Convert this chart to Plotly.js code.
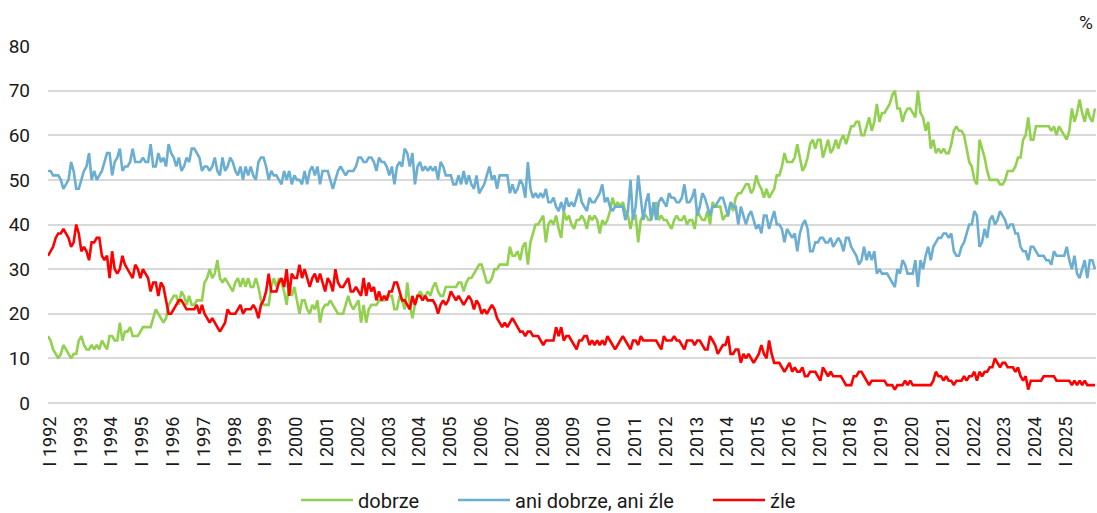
<!DOCTYPE html>
<html>
<head>
<meta charset="utf-8">
<script src="https://cdn.plot.ly/plotly-3.0.1.min.js"></script>
<style>
html, body { margin: 0; padding: 0; background: #ffffff; }
#chart { width: 1097px; height: 513px; }
</style>
</head>
<body>
<div id="chart"></div>
<script>
// Monthly survey results, January 1992 onward (one row per year)
const dobrze = [
  15, 14, 12, 11, 10, 11, 13, 12, 11, 10, 11, 11,
  14, 15, 13, 12, 12, 13, 12, 13, 12, 14, 13, 12,
  15, 15, 14, 14, 18, 14, 16, 16, 17, 15, 15, 15,
  16, 17, 17, 17, 17, 19, 21, 20, 19, 18, 19, 22,
  23, 24, 24, 22, 25, 24, 22, 24, 22, 22, 23, 23,
  23, 27, 28, 30, 28, 29, 32, 28, 27, 28, 27, 26,
  25, 27, 28, 26, 28, 26, 28, 26, 26, 28, 26, 23,
  22, 22, 22, 26, 28, 26, 28, 27, 25, 22, 27, 24,
  26, 23, 20, 23, 23, 21, 20, 22, 21, 23, 18, 21,
  22, 22, 23, 22, 21, 20, 20, 20, 22, 24, 22, 21,
  22, 23, 18, 22, 18, 21, 22, 22, 22, 23, 23, 23,
  24, 24, 24, 21, 21, 24, 23, 21, 27, 22, 19, 22,
  24, 25, 24, 24, 25, 24, 26, 27, 25, 24, 24, 26,
  26, 26, 26, 26, 27, 27, 25, 27, 28, 28, 29, 30,
  31, 31, 29, 27, 27, 28, 30, 30, 31, 31, 31, 31,
  35, 33, 33, 34, 32, 35, 36, 31, 36, 38, 40, 40,
  41, 42, 36, 40, 41, 40, 42, 39, 37, 43, 41, 42,
  40, 39, 41, 41, 42, 41, 39, 42, 41, 42, 41, 38,
  41, 40, 41, 43, 46, 44, 45, 44, 45, 43, 42, 39,
  42, 42, 36, 41, 42, 42, 41, 41, 43, 45, 41, 42,
  41, 41, 40, 39, 41, 42, 41, 41, 42, 40, 41, 41,
  39, 43, 42, 41, 41, 43, 40, 45, 44, 44, 44, 41,
  42, 42, 45, 43, 46, 47, 47, 48, 49, 49, 47, 48,
  51, 49, 48, 46, 48, 46, 47, 48, 51, 51, 53, 56,
  54, 54, 54, 55, 58, 55, 52, 53, 55, 58, 59, 57,
  59, 59, 55, 57, 59, 56, 57, 59, 57, 59, 60, 58,
  60, 62, 62, 63, 63, 60, 60, 62, 64, 61, 63, 67,
  63, 65, 65, 66, 67, 69, 70, 66, 66, 63, 65, 66,
  66, 65, 64, 70, 65, 64, 61, 63, 57, 59, 56, 57,
  56, 57, 56, 56, 58, 61, 62, 61, 61, 60, 57, 54,
  53, 50, 49, 59, 57, 55, 52, 50, 50, 50, 50, 49,
  49, 50, 52, 52, 52, 53, 55, 55, 59, 60, 64, 59,
  59, 62, 62, 62, 62, 62, 62, 61, 62, 60, 62, 61,
  60, 59, 61, 66, 63, 65, 68, 65, 63, 66, 64, 63,
  66
];

const aniDobrzeAniZle = [
  52, 52, 51, 51, 51, 50, 48, 49, 50, 54, 52, 48,
  48, 50, 52, 53, 56, 50, 52, 50, 51, 52, 54, 56,
  56, 51, 54, 55, 57, 52, 53, 53, 54, 57, 54, 54,
  54, 55, 54, 54, 58, 53, 53, 56, 54, 55, 53, 58,
  56, 55, 53, 55, 52, 53, 55, 54, 57, 57, 56, 55,
  52, 53, 53, 52, 53, 55, 52, 51, 55, 52, 53, 55,
  54, 52, 51, 53, 50, 53, 51, 53, 51, 50, 54, 55,
  55, 53, 50, 52, 51, 51, 50, 49, 52, 50, 52, 49,
  51, 50, 50, 49, 52, 49, 52, 53, 51, 53, 49, 52,
  52, 52, 50, 48, 50, 52, 53, 52, 51, 52, 52, 52,
  53, 55, 55, 54, 54, 55, 55, 54, 52, 55, 54, 54,
  53, 51, 53, 49, 53, 54, 53, 57, 56, 53, 56, 49,
  53, 54, 52, 53, 52, 53, 52, 53, 50, 54, 53, 51,
  51, 51, 49, 49, 51, 49, 52, 49, 51, 49, 48, 51,
  47, 48, 49, 51, 53, 50, 51, 48, 51, 51, 51, 51,
  47, 49, 47, 48, 50, 49, 46, 54, 48, 46, 47, 46,
  47, 46, 48, 45, 45, 46, 44, 43, 45, 43, 46, 44,
  45, 44, 46, 48, 45, 44, 43, 46, 45, 45, 46, 47,
  49, 45, 46, 44, 43, 44, 44, 44, 44, 41, 43, 50,
  41, 44, 51, 46, 41, 45, 47, 41, 45, 41, 45, 46,
  45, 44, 47, 46, 46, 45, 45, 46, 49, 45, 45, 46,
  48, 42, 44, 47, 46, 44, 42, 44, 44, 45, 46, 46,
  44, 42, 45, 44, 44, 40, 44, 42, 40, 42, 43, 41,
  39, 40, 38, 42, 42, 39, 41, 43, 40, 40, 39, 36,
  39, 38, 37, 38, 34, 38, 40, 41, 39, 34, 34, 36,
  36, 37, 37, 36, 36, 37, 35, 36, 37, 36, 34, 37,
  37, 35, 34, 33, 31, 32, 35, 32, 34, 32, 34, 29,
  30, 29, 29, 29, 28, 27, 26, 30, 29, 32, 31, 29,
  29, 29, 32, 26, 32, 30, 33, 35, 32, 35, 36, 37,
  37, 38, 38, 37, 38, 34, 33, 33, 35, 36, 38, 40,
  40, 43, 42, 35, 36, 39, 37, 41, 42, 40, 41, 43,
  42, 41, 39, 40, 40, 38, 38, 35, 34, 34, 32, 35,
  35, 34, 33, 33, 33, 32, 32, 31, 34, 33, 33, 33,
  33, 35, 32, 30, 33, 29, 28, 30, 32, 28, 32, 32,
  30
];

const zle = [
  33, 34, 35, 37, 38, 38, 39, 38, 37, 35, 36, 40,
  38, 34, 35, 34, 32, 36, 36, 37, 37, 33, 32, 33,
  28, 34, 30, 29, 30, 33, 31, 30, 29, 28, 31, 30,
  28, 30, 29, 28, 25, 27, 27, 24, 27, 26, 23, 20,
  20, 21, 22, 23, 23, 22, 21, 21, 21, 21, 22, 20,
  22, 20, 19, 18, 19, 18, 17, 16, 17, 18, 21, 20,
  20, 20, 21, 22, 20, 21, 21, 21, 22, 21, 19, 22,
  23, 25, 29, 25, 25, 25, 27, 28, 26, 30, 24, 29,
  28, 28, 31, 28, 30, 28, 26, 28, 29, 27, 29, 27,
  25, 28, 27, 25, 30, 27, 26, 26, 27, 28, 25, 25,
  26, 25, 24, 28, 24, 27, 25, 26, 23, 25, 23, 24,
  23, 25, 25, 27, 27, 25, 23, 23, 22, 21, 24, 22,
  24, 24, 23, 24, 23, 23, 23, 22, 20, 22, 23, 22,
  23, 25, 24, 23, 24, 23, 22, 23, 24, 23, 21, 23,
  22, 20, 21, 20, 21, 22, 21, 19, 18, 17, 18, 17,
  18, 19, 18, 17, 16, 16, 15, 16, 16, 15, 15, 15,
  14, 13, 14, 14, 14, 14, 17, 15, 17, 14, 15, 15,
  14, 13, 12, 14, 14, 15, 15, 13, 14, 13, 14, 13,
  14, 13, 15, 14, 13, 12, 13, 14, 15, 14, 13, 12,
  14, 14, 13, 15, 14, 14, 14, 14, 14, 14, 13, 12,
  15, 14, 14, 14, 15, 14, 14, 13, 12, 14, 14, 14,
  13, 14, 14, 13, 12, 12, 15, 14, 13, 11, 12, 13,
  13, 15, 11, 11, 12, 12, 9, 11, 10, 11, 10, 9,
  10, 11, 13, 11, 10, 14, 11, 9, 9, 9, 8, 7,
  8, 9, 7, 8, 7, 7, 8, 6, 6, 7, 7, 7,
  6, 5, 8, 7, 6, 7, 6, 6, 6, 6, 5, 4,
  4, 4, 6, 6, 7, 7, 6, 5, 4, 5, 5, 5,
  5, 5, 5, 4, 4, 4, 3, 4, 4, 4, 5, 4,
  5, 4, 4, 4, 4, 4, 4, 4, 4, 5, 7, 6,
  6, 5, 6, 5, 5, 4, 5, 5, 5, 6, 5, 6,
  6, 7, 5, 7, 6, 7, 7, 8, 8, 10, 9, 8,
  9, 9, 8, 8, 8, 7, 8, 6, 5, 6, 3, 5,
  5, 5, 5, 5, 6, 6, 6, 6, 6, 5, 5, 5,
  5, 5, 5, 4, 5, 4, 5, 4, 5, 4, 4, 4,
  4
];

const tickLabels = [
  'I 1992', 'I 1993', 'I 1994', 'I 1995', 'I 1996', 'I 1997', 'I 1998',
  'I 1999', 'I 2000', 'I 2001', 'I 2002', 'I 2003', 'I 2004', 'I 2005',
  'I 2006', 'I 2007', 'I 2008', 'I 2009', 'I 2010', 'I 2011', 'I 2012',
  'I 2013', 'I 2014', 'I 2015', 'I 2016', 'I 2017', 'I 2018', 'I 2019',
  'I 2020', 'I 2021', 'I 2022', 'I 2023', 'I 2024', 'I 2025'
];

const seriesNames = ['dobrze', 'ani dobrze, ani źle', 'źle'];
const seriesColors = ['#92d050', '#6baed2', '#ff0000'];
const seriesValues = [dobrze, aniDobrzeAniZle, zle];

// month index (0 = January 1992)
const monthIndex = dobrze.map((_, i) => i);
const tickVals = tickLabels.map((_, i) => i * 12);

const FONT = 'Roboto, "Noto Sans", Arial, sans-serif';
const TXT = '#1a1a1a';

const legendIds = ['legend', 'legend2', 'legend3'];
const traces = seriesValues.map((vals, k) => ({
  type: 'scatter',
  mode: 'lines',
  x: monthIndex,
  y: vals,
  name: seriesNames[k],
  legend: legendIds[k],
  line: { color: seriesColors[k], width: 2.6 },
  hoverinfo: 'skip'
}));

const plotLeft = 48, plotW = 1048, plotTop = 46, plotH = 357;
function px2paperX(px) { return (px - plotLeft) / plotW; }
function px2paperY(py) { return (plotTop + plotH - py) / plotH; }

const legendBase = {
  orientation: 'h',
  xanchor: 'left',
  yanchor: 'middle',
  y: px2paperY(500),
  font: { family: FONT, size: 20, color: TXT },
  itemwidth: 52,
  bgcolor: 'rgba(0,0,0,0)',
  borderwidth: 0
};

const layout = {
  width: 1097,
  height: 513,
  margin: { l: plotLeft, r: 1097 - plotLeft - plotW, t: plotTop, b: 513 - plotTop - plotH, pad: 0, autoexpand: false },
  paper_bgcolor: '#ffffff',
  plot_bgcolor: '#ffffff',
  font: { family: FONT, size: 19, color: TXT },
  showlegend: true,
  legend: Object.assign({}, legendBase, { x: px2paperX(296) }),
  legend2: Object.assign({}, legendBase, { x: px2paperX(453) }),
  legend3: Object.assign({}, legendBase, { x: px2paperX(708) }),
  xaxis: {
    range: [0, 408.4],
    tickmode: 'array',
    tickvals: tickVals,
    ticktext: tickLabels,
    tickangle: -90,
    showgrid: false,
    zeroline: false,
    showline: false,
    ticks: '',
    ticklabelstandoff: 9,
    ticklabelshift: 2,
    tickfont: { family: FONT, size: 18, color: TXT },
    fixedrange: true
  },
  yaxis: {
    range: [0, 80],
    tick0: 0,
    dtick: 10,
    showgrid: true,
    gridcolor: '#d9d9d9',
    gridwidth: 2,
    zeroline: true,
    zerolinecolor: '#d9d9d9',
    zerolinewidth: 2,
    showline: false,
    ticks: '',
    ticklabelstandoff: 17,
    tickfont: { family: FONT, size: 19, color: TXT },
    fixedrange: true
  },
  annotations: [{
    text: '%',
    xref: 'paper', yref: 'paper',
    x: 1, y: px2paperY(22),
    xanchor: 'right', yanchor: 'middle',
    xshift: -1,
    showarrow: false,
    font: { family: FONT, size: 19, color: TXT }
  }]
};

Plotly.newPlot('chart', traces, layout, { staticPlot: true, displayModeBar: false });
</script>
</body>
</html>
